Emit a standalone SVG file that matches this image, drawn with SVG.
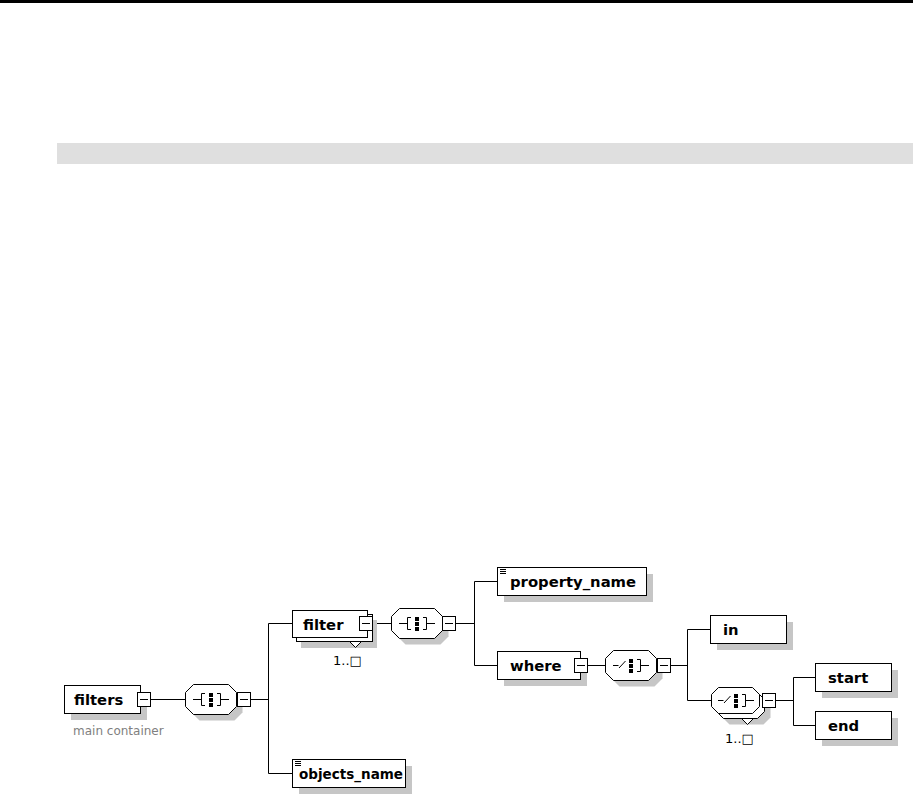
<svg xmlns="http://www.w3.org/2000/svg" width="913" height="799" viewBox="0 0 913 799">
<defs>
<style>
.bx{fill:#fff;stroke:#000;stroke-width:1}
.sh{fill:#c6c6c6;stroke:none}
.ln{fill:none;stroke:#000;stroke-width:1}
.dot{fill:#000}
.nm{font-family:"DejaVu Sans",Verdana,sans-serif;font-weight:bold;font-size:14.8px;fill:#000}
.cd{font-family:"DejaVu Sans",Verdana,sans-serif;font-size:13px;fill:#000}
.an{font-family:"DejaVu Sans",Verdana,sans-serif;font-size:12px;fill:#808080}
</style>
<path id="oct" d="M-17.5,-15 L17.5,-15 L25.5,-7 L25.5,7 L17.5,15 L-17.5,15 L-25.5,7 L-25.5,-7 Z"/>
<path id="octS" d="M-17,-13 L17,-13 L24,-6 L24,6 L17,13 L-17,13 L-24,6 L-24,-6 Z"/>
<g id="btn"><rect x="0.5" y="0.5" width="13" height="14" class="bx"/><path d="M3,7.5 H11" class="ln"/></g>
<g id="seqI">
<path class="ln" d="M-18,0.5 H-9.5 M-9.5,-5.5 V6.5 M-9.5,-5.5 H-6 M-9.5,6.5 H-6 M9.5,-5.5 V6.5 M9.5,-5.5 H6 M9.5,6.5 H6 M9.5,0.5 H18"/>
<rect class="dot" x="-2" y="-6" width="4" height="4"/><rect class="dot" x="-2" y="-1" width="4" height="4"/><rect class="dot" x="-2" y="4" width="4" height="4"/>
</g>
<g id="choI">
<path class="ln" d="M-18,0.5 H-12.5 M-12,3 L-5.5,-4 M9.5,-5.5 V6.5 M9.5,-5.5 H6 M9.5,6.5 H6 M9.5,0.5 H18"/>
<rect class="dot" x="-2" y="-6" width="4" height="4"/><rect class="dot" x="-2" y="-1" width="4" height="4"/><rect class="dot" x="-2" y="4" width="4" height="4"/>
</g>
<g id="lines3"><path class="ln" d="M0,0.5 H6 M0,2.5 H6 M0,4.5 H6"/></g>
</defs>

<rect x="0" y="0" width="913" height="3" fill="#000"/>
<rect x="57" y="143" width="856" height="21" fill="#dfdfdf"/>

<g id="connectors" class="ln">
<path d="M150.5,699.5 H185.5"/>
<path d="M250.5,699.5 H268.5"/>
<path d="M268.5,623.5 V773.5"/>
<path d="M268.5,623.5 H292.5"/>
<path d="M268.5,773.5 H292.5"/>
<path d="M372.5,623.5 H391.5"/>
<path d="M455.5,623.5 H474.5"/>
<path d="M474.5,581.5 V665.5"/>
<path d="M474.5,581.5 H497.5"/>
<path d="M474.5,665.5 H497.5"/>
<path d="M587.5,665.5 H605.5"/>
<path d="M670.5,665.5 H687.5"/>
<path d="M687.5,629.5 V700.5"/>
<path d="M687.5,629.5 H710.5"/>
<path d="M687.5,700.5 H711.5"/>
<path d="M775.5,700.5 H793.5"/>
<path d="M793.5,677.5 V725.5"/>
<path d="M793.5,677.5 H815.5"/>
<path d="M793.5,725.5 H815.5"/>
</g>

<g id="node-filters">
<rect class="sh" x="71" y="692" width="76" height="28"/>
<rect class="bx" x="64.5" y="685.5" width="76" height="28"/>
<text class="nm" x="74" y="705">filters</text>
<use href="#btn" x="137" y="692"/>
<text class="an" x="73" y="735">main container</text>
</g>

<g id="node-seq1">
<use href="#oct" class="sh" transform="translate(217,705.5)"/>
<use href="#oct" class="bx" transform="translate(211,699.5)"/>
<use href="#seqI" transform="translate(211,699)"/>
<use href="#btn" x="237" y="692"/>
</g>

<g id="node-filter">
<rect class="sh" x="301" y="620" width="76" height="28"/>
<rect class="bx" x="296.5" y="614.5" width="76" height="27"/>
<polygon class="bx" points="349.5,641.5 355.5,647.5 361.5,641.5"/>
<rect class="bx" x="292.5" y="610.5" width="75" height="27"/>
<text class="nm" x="303" y="630">filter</text>
<use href="#btn" x="359" y="616"/>
<text class="cd" x="333" y="665">1..□</text>
</g>

<g id="node-seq2">
<use href="#oct" class="sh" transform="translate(423,629.5)"/>
<use href="#oct" class="bx" transform="translate(417,623.5)"/>
<use href="#seqI" transform="translate(417,623)"/>
<use href="#btn" x="442" y="616"/>
</g>

<g id="node-property_name">
<rect class="sh" x="504" y="574" width="149" height="28"/>
<rect class="bx" x="497.5" y="567.5" width="149" height="28"/>
<use href="#lines3" x="500" y="569"/>
<text class="nm" x="510" y="587">property_name</text>
</g>

<g id="node-where">
<rect class="sh" x="504" y="658" width="83" height="28"/>
<rect class="bx" x="497.5" y="651.5" width="83" height="28"/>
<text class="nm" x="510" y="671">where</text>
<use href="#btn" x="574" y="658"/>
</g>

<g id="node-choice1">
<use href="#oct" class="sh" transform="translate(637,671.5)"/>
<use href="#oct" class="bx" transform="translate(631,665.5)"/>
<use href="#choI" transform="translate(631,665)"/>
<use href="#btn" x="657" y="658"/>
</g>

<g id="node-in">
<rect class="sh" x="717" y="622" width="76" height="28"/>
<rect class="bx" x="710.5" y="615.5" width="76" height="28"/>
<text class="nm" x="723" y="635">in</text>
</g>

<g id="node-choice2">
<use href="#octS" class="sh" transform="translate(746.5,711.5)"/>
<use href="#octS" class="bx" transform="translate(740.5,705.5)"/>
<polygon class="bx" points="741.5,718.5 747.5,724.5 753.5,718.5"/>
<use href="#octS" class="bx" transform="translate(735.5,700.5)"/>
<use href="#choI" transform="translate(736,700)"/>
<use href="#btn" x="762" y="693"/>
<text class="cd" x="725" y="743">1..□</text>
</g>

<g id="node-start">
<rect class="sh" x="822" y="670" width="76" height="28"/>
<rect class="bx" x="815.5" y="663.5" width="76" height="28"/>
<text class="nm" x="828" y="683">start</text>
</g>

<g id="node-end">
<rect class="sh" x="822" y="718" width="76" height="28"/>
<rect class="bx" x="815.5" y="711.5" width="76" height="28"/>
<text class="nm" x="828" y="731">end</text>
</g>

<g id="node-objects_name">
<rect class="sh" x="299" y="766" width="113" height="28"/>
<rect class="bx" x="292.5" y="759.5" width="113" height="28"/>
<use href="#lines3" x="295" y="761"/>
<text class="nm" x="299" y="779" textLength="104" lengthAdjust="spacingAndGlyphs">objects_name</text>
</g>
</svg>
